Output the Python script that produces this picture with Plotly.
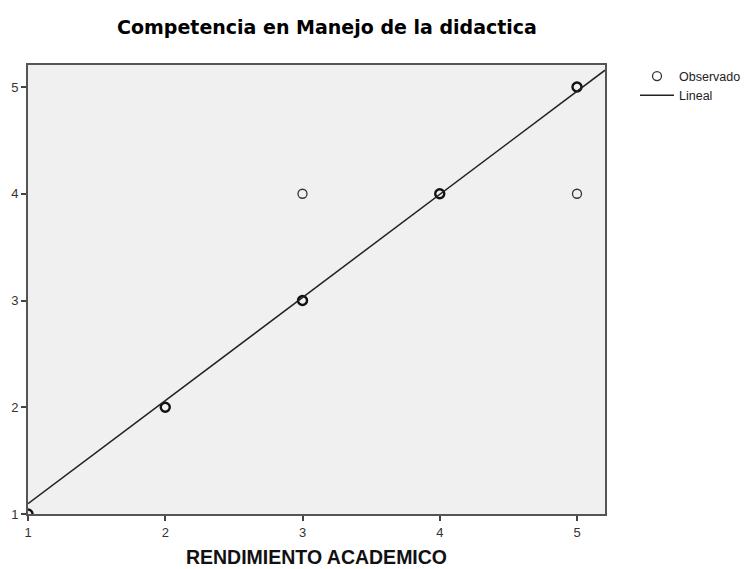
import plotly.graph_objects as go

# Observed points (thin = single, bold = overlapping several cases)
obs_x_bold = [1, 2, 3, 4, 5]
obs_y_bold = [1, 2, 3, 4, 5]
obs_x_thin = [3, 5]
obs_y_thin = [4, 4]

# Linear fit
intercept = 0.13
slope = 0.966
x_min, x_max = 1.0, 5.204
y_min, y_max = 1.0, 5.206

tick_vals = [1, 2, 3, 4, 5]

line_x = [x_min, x_max]
line_y = [intercept + slope * v for v in line_x]

fig = go.Figure()
fig.add_trace(go.Scatter(x=obs_x_thin, y=obs_y_thin, mode="markers", name="Observado",
                         marker=dict(symbol="circle-open", size=9, color="#333333",
                                     line=dict(width=1.3, color="#333333"))))
fig.add_trace(go.Scatter(x=obs_x_bold, y=obs_y_bold, mode="markers", name="Observado",
                         showlegend=False,
                         marker=dict(symbol="circle-open", size=9, color="#111111",
                                     line=dict(width=2.4, color="#111111"))))
fig.add_trace(go.Scatter(x=line_x, y=line_y, mode="lines", name="Lineal",
                         line=dict(color="#222222", width=1.5)))

fig.update_layout(
    template="none",
    width=750, height=569,
    margin=dict(l=20, r=153, t=57, b=63, autoexpand=False),
    paper_bgcolor="white", plot_bgcolor="#f0f0f0",
    title=dict(text="<b>Competencia en Manejo de la didactica</b>",
               font=dict(family="DejaVu Sans", size=19, color="black"),
               x=(327 - 8) / 750, xanchor="center", y=1 - 19 / 569, yanchor="middle"),
    legend=dict(x=1.052, y=1.008, xanchor="left", yanchor="top",
                font=dict(family="Arial, Liberation Sans", size=12.5, color="#222222"),
                bgcolor="rgba(0,0,0,0)", tracegroupgap=0, itemwidth=34),
    xaxis=dict(range=[x_min, x_max], tickvals=tick_vals, showgrid=False, zeroline=False,
               automargin=False,
               ticks="outside", ticklen=5, tickcolor="#444", tickwidth=1.5,
               showline=True, linecolor="#555", linewidth=2, mirror=True,
               tickfont=dict(family="Arial, Liberation Sans", size=13, color="#333333"),
               title=dict(text="<b>RENDIMIENTO ACADEMICO</b>", standoff=12,
                          font=dict(family="Arial, Liberation Sans", size=19.5, color="#111111"))),
    yaxis=dict(range=[y_min, y_max], tickvals=tick_vals, showgrid=False, zeroline=False,
               automargin=False,
               ticks="outside", ticklen=5, tickcolor="#444", tickwidth=1.5,
               showline=True, linecolor="#555", linewidth=2, mirror=True,
               tickfont=dict(family="Arial, Liberation Sans", size=13, color="#333333")),
)

fig.write_html("out.html")
